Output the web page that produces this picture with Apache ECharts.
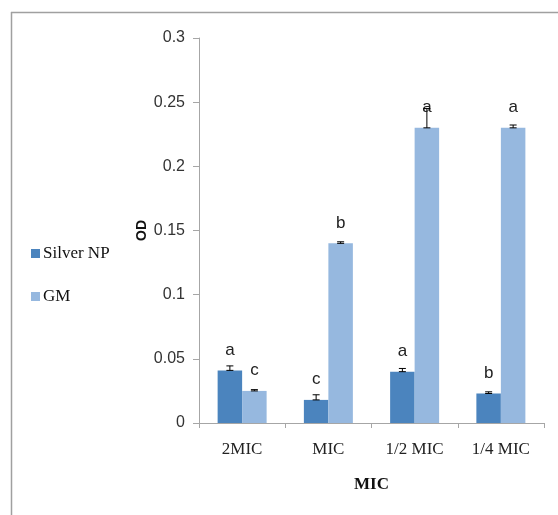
<!DOCTYPE html>
<html>
<head>
<meta charset="utf-8">
<script src="https://cdn.jsdelivr.net/npm/echarts@6/dist/echarts.min.js"></script>
<style>html,body{margin:0;padding:0;background:#fff}#c{width:558px;height:515px}</style>
</head>
<body>
<div id="c"></div>
<script>
var categories = ['2MIC', 'MIC', '1/2 MIC', '1/4 MIC'];
var silverValues = [0.041, 0.018, 0.040, 0.023];
var silverErrors = [0.0035, 0.004, 0.0025, 0.0013];
var silverLetters = ['a', 'c', 'a', 'b'];
var gmValues = [0.025, 0.140, 0.230, 0.230];
var gmErrors = [0.001, 0.0012, 0.015, 0.0022];
var gmLetters = ['c', 'b', 'a', 'a'];
var yTicks = [0, 0.05, 0.1, 0.15, 0.2, 0.25, 0.3];

var BAR_W = 24.5;
var chart = echarts.init(document.getElementById('c'));

function errSeries(values, errors, offset) {
  return {
    type: 'custom',
    silent: true,
    z: 5,
    data: values.map(function (v, i) { return [i, v, errors[i]]; }),
    renderItem: function (params, api) {
      var i = api.value(0), v = api.value(1), e = api.value(2);
      var top = api.coord([i, v + e]);
      var bot = api.coord([i, v]);
      var x = top[0] + offset;
      var hw = 3.5;
      return {
        type: 'group',
        children: [
          {type: 'line', shape: {x1: x, y1: top[1], x2: x, y2: bot[1]}, style: {stroke: '#000', lineWidth: 1}},
          {type: 'line', shape: {x1: x - hw, y1: top[1], x2: x + hw, y2: top[1]}, style: {stroke: '#000', lineWidth: 1}},
          {type: 'line', shape: {x1: x - hw, y1: bot[1], x2: x + hw, y2: bot[1]}, style: {stroke: '#000', lineWidth: 1}}
        ]
      };
    }
  };
}

var letterLabel = function (letters) {
  return {
    show: true,
    position: 'top',
    distance: 12,
    fontFamily: '"Liberation Sans Narrow", "Liberation Sans", sans-serif',
    fontSize: 17,
    color: '#222',
    formatter: function (p) { return letters[p.dataIndex]; }
  };
};

chart.setOption({
  animation: false,
  backgroundColor: '#fff',
  grid: {left: 199, right: 14, top: 38, bottom: 92},
  legend: {
    orient: 'vertical',
    left: 26,
    top: 240,
    itemWidth: 9,
    itemHeight: 9,
    itemGap: 26,
    icon: 'rect',
    data: ['Silver NP', 'GM'],
    textStyle: {fontFamily: '"Liberation Serif", serif', fontSize: 17, color: '#111', padding: [0, 0, 0, -2]}
  },
  xAxis: {
    type: 'category',
    data: categories,
    name: 'MIC',
    nameLocation: 'middle',
    nameGap: 53,
    nameTextStyle: {fontFamily: '"Liberation Serif", serif', fontWeight: 'bold', fontSize: 17, color: '#111'},
    axisLine: {lineStyle: {color: '#A6A6A6', width: 1}},
    axisTick: {show: true, length: 5, lineStyle: {color: '#A6A6A6'}},
    axisLabel: {margin: 18, fontFamily: '"Liberation Serif", serif', fontSize: 17, color: '#222'}
  },
  yAxis: {
    type: 'value',
    min: 0,
    max: 0.3,
    interval: 0.05,
    name: 'OD',
    nameLocation: 'middle',
    nameGap: 50,
    nameMoveOverlap: false,
    nameRotate: 90,
    nameTextStyle: {fontFamily: '"Liberation Sans", sans-serif', fontWeight: 'bold', fontSize: 14, color: '#111'},
    splitLine: {show: false},
    axisLine: {show: true, lineStyle: {color: '#A6A6A6', width: 1}},
    axisTick: {show: true, length: 6, lineStyle: {color: '#A6A6A6'}},
    axisLabel: {
      margin: 14,
      fontFamily: '"Liberation Sans Narrow", "Liberation Sans", sans-serif',
      fontSize: 16,
      color: '#333',
      formatter: function (v) {
        for (var k = 0; k < yTicks.length; k++) { if (Math.abs(yTicks[k] - v) < 1e-9) return String(yTicks[k]); }
        return '';
      }
    }
  },
  graphic: [
    {type: 'line', shape: {x1: 11, y1: 12.5, x2: 558, y2: 12.5}, style: {stroke: '#A0A0A0', lineWidth: 1.5}},
    {type: 'line', shape: {x1: 11.5, y1: 12, x2: 11.5, y2: 515}, style: {stroke: '#A0A0A0', lineWidth: 1.5}}
  ],
  series: [
    {name: 'Silver NP', type: 'bar', data: silverValues, barWidth: BAR_W, barGap: '0%',
     itemStyle: {color: '#4B84BE'}, label: letterLabel(silverLetters)},
    {name: 'GM', type: 'bar', data: gmValues, barWidth: BAR_W, barGap: '0%',
     itemStyle: {color: '#96B8DF'}, label: letterLabel(gmLetters)},
    errSeries(silverValues, silverErrors, -BAR_W / 2),
    errSeries(gmValues, gmErrors, BAR_W / 2)
  ]
});
</script>
</body>
</html>
